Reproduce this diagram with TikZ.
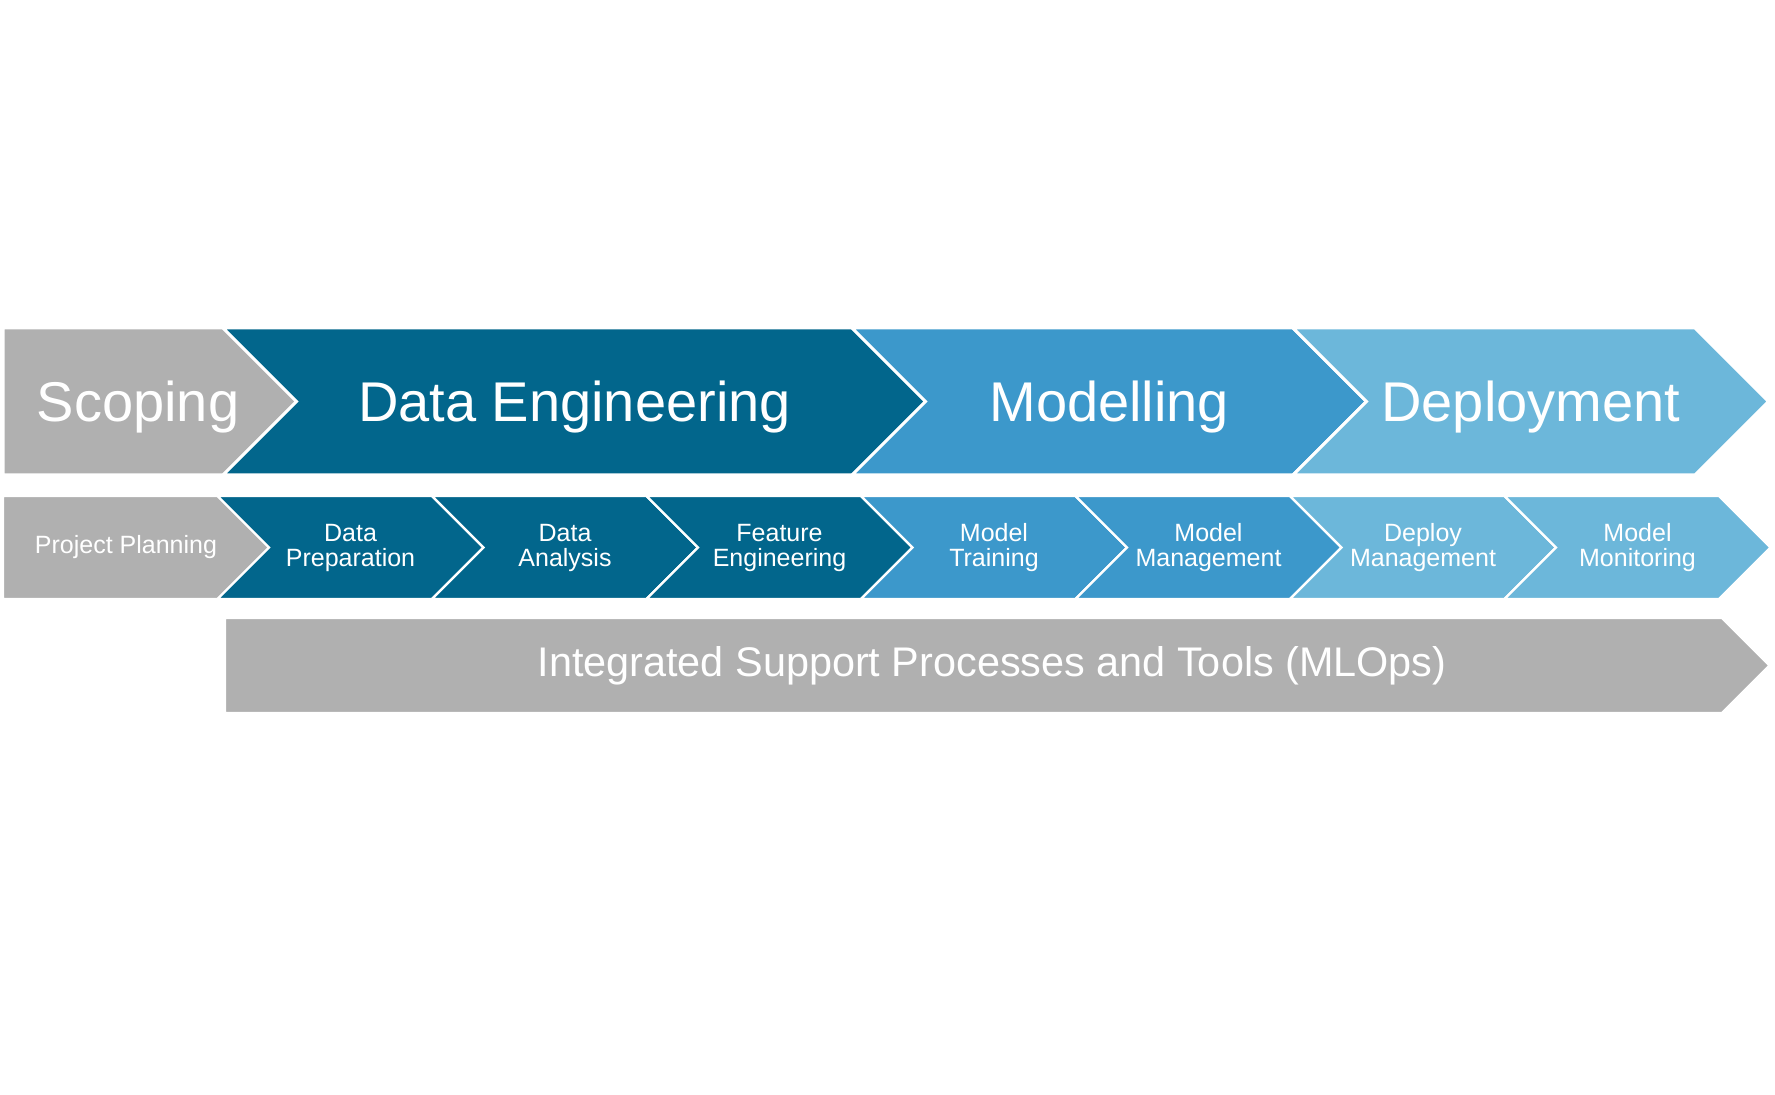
\documentclass[tikz,border=0pt]{standalone}
\usepackage{fontspec}
\setmainfont{Liberation Sans}
\usetikzlibrary{shapes.symbols}

\definecolor{scopegray}{RGB}{176,176,176}
\definecolor{engblue}{RGB}{2,102,140}
\definecolor{modblue}{RGB}{60,152,203}
\definecolor{depblue}{RGB}{108,183,218}

\begin{document}
\begin{tikzpicture}[
    x=0.5pt, y=-0.5pt,
    chev/.style={signal, signal to=east, signal pointer angle=90,
                 draw=white, text=white, inner sep=0pt, outer sep=0pt},
    phasetext/.style={text=white, font=\fontsize{28}{28}\selectfont,
                      text height=20pt, text depth=0pt},
    tasktext/.style={text=white, align=center,
                     font=\fontsize{12.5}{12.5}\selectfont},
    supporttext/.style={text=white, font=\fontsize{20.7}{20.7}\selectfont},
    phase/.style={chev, phasetext, line width=1.5pt, minimum height=73.5pt},
    task/.style={chev, tasktext, line width=1.2pt, minimum height=51.5pt,
                 minimum width=133pt},
    support/.style={chev, supporttext, line width=1.2pt, minimum height=47.5pt},
]
\useasboundingbox (0,0) rectangle (1775,1095);

%% ---- TOP ROW: phases ----
\node[phase, fill=scopegray, minimum width=147pt,
      label={[phasetext, xshift=12.4pt]center:Scoping}]
    (scoping) at (113.25,401.5) {};
\node[phase, signal from=west, fill=engblue, minimum width=351.5pt]
    (dataeng) at (574.5,401.5) {Data Engineering};
\node[phase, signal from=west, fill=modblue, minimum width=257.25pt]
    (modelling) at (1109.25,401.5) {Modelling};
\node[phase, signal from=west, fill=depblue, minimum width=237.75pt]
    (deployment) at (1530.75,401.5) {Deployment};

%% ---- MIDDLE ROW: tasks ----
\node[task, fill=scopegray, minimum width=133.25pt,
      label={[tasktext, xshift=7.75pt]center:Project Planning}]
                                              (planning) at (110.5,547.5)  {};
\node[task, signal from=west, fill=engblue]   (dataprep) at (350.5,547.5)  {Data\\Preparation};
\node[task, signal from=west, fill=engblue]   (analysis) at (565,547.5)    {Data\\Analysis};
\node[task, signal from=west, fill=engblue]   (feateng)  at (779.5,547.5)  {Feature\\Engineering};
\node[task, signal from=west, fill=modblue]   (training) at (994,547.5)    {Model\\Training};
\node[task, signal from=west, fill=modblue]   (modmgmt)  at (1208.5,547.5) {Model\\Management};
\node[task, signal from=west, fill=depblue]   (depmgmt)  at (1423,547.5)   {Deploy\\Management};
\node[task, signal from=west, fill=depblue]   (monitor)  at (1637.5,547.5) {Model\\Monitoring};

%% ---- BOTTOM ROW: MLOps band ----
\node[support, fill=scopegray, minimum width=772.25pt,
      label={[supporttext, xshift=9.25pt]center:Integrated Support Processes and Tools (MLOps)}]
    (mlops) at (973.5,665.5) {};

\end{tikzpicture}
\end{document}
